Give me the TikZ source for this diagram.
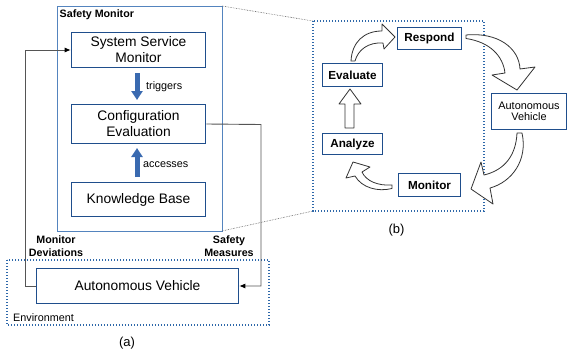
\documentclass[tikz,border=0pt]{standalone}
\usepackage{fontspec}
\setmainfont{Liberation Sans}
\usetikzlibrary{arrows.meta}

\definecolor{boxblue}{RGB}{31,78,140}
\definecolor{lightblue}{RGB}{84,132,190}
\definecolor{arrowblue}{RGB}{58,106,176}
\definecolor{dotblue}{RGB}{46,104,170}
\definecolor{linegray}{RGB}{85,85,85}

\tikzset{
    bigbox/.style = {draw = boxblue, line width = 1.6pt, minimum width = 134pt, align = center, inner sep = 0pt, font = \fontsize{13.8}{16}\selectfont},
    loopbox/.style = {draw = boxblue, line width = 1.6pt, inner sep = 0pt, font = \fontsize{11.7}{13}\selectfont\bfseries},
    smalltext/.style = {font = \fontsize{10.8}{13}\selectfont, inner sep = 0pt},
    boldtext/.style = {font = \fontsize{10.7}{13}\selectfont\bfseries, inner sep = 0pt, align = center},
    bluearrow/.style = {arrowblue, line width = 5pt, -{Triangle[width = 11pt, length = 9pt]}},
    feedback/.style = {draw = linegray, line width = 0.9pt, -{Latex[length = 6pt, width = 5pt, color = black]}},
    blockarrow/.style = {draw = black!80, fill = white, line width = 0.8pt, line join = round},
    dotbox/.style = {draw = dotblue, line width = 1.1pt, dash pattern = on 1.3pt off 1.7pt}
}

\begin{document}
\begin{tikzpicture}[x = 1pt, y = -1pt]
        \useasboundingbox (0, 0) rectangle (568, 356);

        % (a) left part
        \draw[lightblue, line width = 0.9pt] (57, 6) rectangle (222, 231);
        \node[boldtext, anchor = west] (smlabel) at (59.5, 15) {Safety Monitor};

        \node[bigbox, minimum height = 35pt] (ssm) at (138.5, 50) {System Service\\Monitor};
        \node[bigbox, minimum height = 39pt] (ce) at (138.5, 124) {Configuration\\Evaluation};
        \node[bigbox, minimum height = 34pt] (kb) at (138.5, 199.5) {Knowledge Base};

        \draw[bluearrow, shorten <= 5pt, shorten >= 4pt] (137, 68) -- (137, 104);
        \node[smalltext, anchor = west] (trig) at (146, 87) {triggers};
        \draw[bluearrow, shorten <= 5pt, shorten >= 4pt] (137, 182) -- (137, 144);
        \node[smalltext, anchor = west] (acc) at (143, 165) {accesses};

        \draw[dotbox] (7, 260) rectangle (269, 325);
        \node[smalltext, anchor = west] (env) at (13, 318) {Environment};
        \node[bigbox, minimum width = 202pt, minimum height = 35pt] (av) at (137.5, 286) {Autonomous Vehicle};

        \coordinate (lcorner) at (25, 286);
        \coordinate (rcorner) at (261, 124.5);
        \draw[feedback] (av.west) -- (lcorner) |- (ssm.west);
        \draw[feedback] (ce.east) -- (rcorner) |- (av.east);
        \node[boldtext] (mondev) at (56, 246.5) {Monitor\\Deviations};
        \node[boldtext] (safmeas) at (229, 246.5) {Safety\\Measures};

        \node[font = \fontsize{13}{15}\selectfont] (capa) at (127, 343) {(a)};

        % zoom lines
        \draw[linegray, line width = 0.6pt, densely dotted] (222, 6) -- (313, 21);
        \draw[linegray, line width = 0.6pt, densely dotted] (222, 231) -- (313, 211);

        % (b) right part
        \draw[dotbox] (313, 21) rectangle (484, 211);
        \node[loopbox, minimum width = 64pt, minimum height = 22pt] (respond) at (429.5, 38.5) {Respond};
        \node[loopbox, minimum width = 60pt, minimum height = 23pt] (evaluate) at (352.5, 75) {Evaluate};
        \node[loopbox, minimum width = 60pt, minimum height = 21pt] (analyze) at (352.5, 144) {Analyze};
        \node[loopbox, minimum width = 62pt, minimum height = 23pt] (monitor) at (429.5, 185) {Monitor};
        \node[draw = boxblue, line width = 1.6pt, minimum width = 75pt, minimum height = 36pt, inner sep = 0pt, align = center,
            font = \fontsize{10.9}{11}\selectfont] (avb) at (529, 111.5) {Autonomous\\Vehicle};

        % block arrows
        \draw[blockarrow] (466, 35) .. controls (498, 32) and (519, 48) .. (520, 69) -- (535, 67) -- (517, 90)
            -- (492, 75) -- (505, 73) .. controls (503, 56) and (490, 42) .. (466, 38.5) -- cycle;
        \draw[blockarrow] (522, 133) .. controls (528, 160) and (512, 182) .. (490, 188) -- (493, 204) -- (471, 189)
            -- (481, 162) -- (484, 175) .. controls (505, 170) and (516, 155) .. (517, 133) -- cycle;
        \draw[blockarrow] (392, 185) .. controls (378, 186) and (366, 181) .. (362, 172) -- (370, 167) -- (353, 162)
            -- (346, 178) -- (355, 176) .. controls (362, 188) and (378, 192) .. (392, 188.5) -- cycle;
        \draw[blockarrow] (345, 128) -- (345, 104) -- (339, 104) -- (350, 89) -- (361, 104) -- (354, 104) -- (354, 128) -- cycle;
        \draw[blockarrow] (351, 61) .. controls (352, 42) and (364, 31) .. (382, 31) -- (382, 24) -- (395, 37)
            -- (384, 49) -- (383, 43) .. controls (368, 42) and (358, 50) .. (355, 61) -- cycle;

        \node[font = \fontsize{13}{15}\selectfont] (capb) at (396.5, 230) {(b)};
    \end{tikzpicture}
\end{document}
